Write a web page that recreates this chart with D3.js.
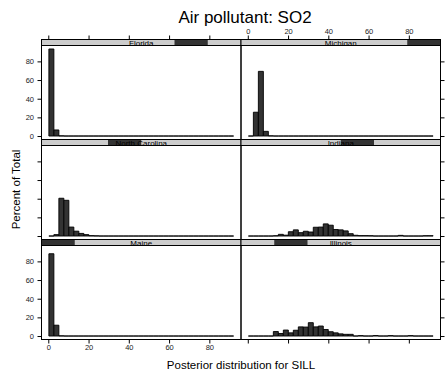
<!DOCTYPE html>
<html>
<head>
<meta charset="utf-8">
<script src="https://cdn.jsdelivr.net/npm/d3@7"></script>
<style>
  body { margin: 0; background: #fff; }
  text { font-family: "Liberation Sans", Arial, sans-serif; }
</style>
</head>
<body>
<svg id="chart" width="445" height="374"></svg>
<script>
// factor levels, in the order lattice uses for the strip indicator
const levels = ["Maine", "Illinois", "North Carolina", "Indiana", "Florida", "Michigan"];

// panel placement: rows from top, columns from left
const panelGrid = [
    ["Florida", "Michigan"],
    ["North Carolina", "Indiana"],
    ["Maine", "Illinois"]
];

// histogram breaks (posterior SILL)
const breaks = [0.3, 2.78, 5.26, 7.74, 10.22, 12.7, 15.18, 17.66, 20.14, 22.62, 25.1, 27.58,
    30.06, 32.54, 35.02, 37.5, 39.98, 42.46, 44.94, 47.42, 49.9, 52.38, 54.86, 57.34, 59.82,
    62.3, 64.78, 67.26, 69.74, 72.22, 74.7, 77.18, 79.66, 82.14, 84.62, 87.1, 89.58, 92.06];

// percent of total in each bin
const florida = [93.3, 6.5, 0.2, 0, 0, 0, 0, 0, 0, 0, 0, 0, 0, 0, 0, 0, 0, 0, 0, 0, 0, 0, 0, 0, 0, 0, 0, 0, 0, 0, 0, 0, 0, 0, 0, 0, 0];
const michigan = [0, 25.5, 69.3, 5.0, 0.2, 0, 0, 0, 0, 0, 0, 0, 0, 0, 0, 0, 0, 0, 0, 0, 0, 0, 0, 0, 0, 0, 0, 0, 0, 0, 0, 0, 0, 0, 0, 0, 0];
const northCarolina = [0, 1.5, 40.5, 38.3, 9.6, 5.2, 2.8, 1.5, 0.4, 0.2, 0, 0, 0, 0, 0, 0, 0, 0, 0, 0, 0, 0, 0, 0, 0, 0, 0, 0, 0, 0, 0, 0, 0, 0, 0, 0, 0];
const indiana = [0, 0, 0, 0, 0, 0.3, 1.8, 0.9, 4.6, 6.6, 3.6, 5.1, 4.3, 9.4, 9.6, 13.0, 11.6, 7.0, 6.6, 5.5, 2.5, 0.8, 0.4, 0.4, 0.3, 0, 0, 0, 0, 0, 0.7, 0, 0, 0, 0, 0.3, 0.3];
const maine = [88.2, 11.6, 0.2, 0, 0, 0, 0, 0, 0, 0, 0, 0, 0, 0, 0, 0, 0, 0, 0, 0, 0, 0, 0, 0, 0, 0, 0, 0, 0, 0, 0, 0, 0, 0, 0, 0, 0];
const illinois = [0, 0, 0, 0, 0, 4.8, 2.7, 6.4, 3.4, 6.2, 9.8, 9.6, 14.3, 9.8, 10.7, 7.0, 4.6, 3.4, 2.3, 1.8, 1.8, 0, 0.4, 0, 0, 0.5, 0, 0, 0.4, 0, 0, 0, 0.4, 0, 0, 0, 0];

const yTicks = [0, 20, 40, 60, 80];
const xTicks = [0, 20, 40, 60, 80];

const percents = {
    "Florida": florida, "Michigan": michigan, "North Carolina": northCarolina,
    "Indiana": indiana, "Maine": maine, "Illinois": illinois
};

let svg = d3.select("#chart");

// layout
let frameLeft = 41.5, frameRight = 440.5, frameTop = 39.5;
let colW = (frameRight - frameLeft) / 2;
let rowH = 100, stripH = 6;

// lattice pads limits by 4%
let bMin = d3.min(breaks), bMax = d3.max(breaks);
let xPad = 0.04 * (bMax - bMin);
let yMax = d3.max(Object.values(percents), function(a) { return d3.max(a); });
let yPad = 0.04 * yMax;

let stripFill = "#cccccc", barFill = "#333333";

panelGrid.forEach(function(row, r) {
    row.forEach(function(state, c) {
        let x0 = frameLeft + c * colW;
        let sTop = frameTop + r * rowH;
        let pTop = sTop + stripH;
        let pBot = sTop + rowH;

        let xScale = d3.scaleLinear()
            .domain([bMin - xPad, bMax + xPad])
            .range([x0, x0 + colW]);
        let yScale = d3.scaleLinear()
            .domain([-yPad, yMax + yPad])
            .range([pBot, pTop]);

        let bins = percents[state].map(function(v, i) {
            return {lo: breaks[i], hi: breaks[i + 1], v: v};
        });

        let g = svg.append("g");

        // bars as closed paths so empty bins still show as a line at zero
        g.selectAll("path.bar")
            .data(bins)
            .enter().append("path")
            .attr("class", "bar")
            .attr("d", function(d) {
                let p = d3.path();
                p.rect(xScale(d.lo), yScale(d.v), xScale(d.hi) - xScale(d.lo), yScale(0) - yScale(d.v));
                return p.toString();
            })
            .attr("fill", barFill)
            .attr("stroke", "#000")
            .attr("stroke-width", 0.9);

        // panel box
        g.append("rect")
            .attr("x", x0).attr("y", pTop)
            .attr("width", colW).attr("height", pBot - pTop)
            .attr("fill", "none").attr("stroke", "#000").attr("stroke-width", 1);

        // strip with level indicator
        let clipId = "clip" + r + c;
        svg.append("clipPath").attr("id", clipId)
            .append("rect").attr("x", x0).attr("y", sTop)
            .attr("width", colW).attr("height", stripH);
        let sg = svg.append("g");
        sg.append("rect")
            .attr("x", x0).attr("y", sTop).attr("width", colW).attr("height", stripH)
            .attr("fill", stripFill);
        let li = levels.indexOf(state);
        sg.append("rect")
            .attr("x", x0 + colW * li / levels.length).attr("y", sTop)
            .attr("width", colW / levels.length).attr("height", stripH)
            .attr("fill", barFill);
        sg.append("text")
            .attr("clip-path", "url(#" + clipId + ")")
            .attr("x", x0 + colW / 2).attr("y", sTop + stripH + 0.3)
            .attr("text-anchor", "middle")
            .attr("font-size", "8px")
            .attr("fill", "#000")
            .text(state);
        sg.append("rect")
            .attr("x", x0).attr("y", sTop).attr("width", colW).attr("height", stripH)
            .attr("fill", "none").attr("stroke", "#000").attr("stroke-width", 1);

        // axes (alternating labels like lattice)
        if (c == 0) {
            let ax = d3.axisLeft(yScale).tickValues(yTicks).tickSize(4).tickPadding(3.5);
            if (r == 1) ax.tickFormat("");
            g.append("g").attr("class", "axis").attr("transform", "translate(" + x0 + ",0)").call(ax);
        } else {
            let ax = d3.axisRight(yScale).tickValues(yTicks).tickSize(4).tickFormat("");
            g.append("g").attr("class", "axis").attr("transform", "translate(" + (x0 + colW) + ",0)").call(ax);
        }
        if (r == 0) {
            let ax = d3.axisTop(xScale).tickValues(xTicks).tickSize(4).tickPadding(2);
            if (c == 0) ax.tickFormat("");
            g.append("g").attr("class", "axis").attr("transform", "translate(0," + sTop + ")").call(ax);
        }
        if (r == panelGrid.length - 1) {
            let ax = d3.axisBottom(xScale).tickValues(xTicks).tickSize(4).tickPadding(1.5);
            if (c == 1) ax.tickFormat("");
            g.append("g").attr("class", "axis").attr("transform", "translate(0," + pBot + ")").call(ax);
        }
    });
});

svg.selectAll(".axis .domain").remove();
svg.selectAll(".axis text").attr("font-size", "7.5px").attr("font-family", "Liberation Sans, Arial, sans-serif").attr("fill", "#222");
svg.selectAll(".axis line").attr("stroke", "#000");

// titles
svg.append("text")
    .attr("x", 245).attr("y", 22.5)
    .attr("text-anchor", "middle")
    .attr("font-size", "17px")
    .text("Air pollutant: SO2");

svg.append("text")
    .attr("x", (frameLeft + frameRight) / 2).attr("y", 369)
    .attr("text-anchor", "middle")
    .attr("font-size", "11.5px")
    .text("Posterior distribution for SILL");

svg.append("text")
    .attr("transform", "translate(19.5," + (frameTop + 1.5 * rowH) + ") rotate(-90)")
    .attr("text-anchor", "middle")
    .attr("font-size", "11.5px")
    .text("Percent of Total");
</script>
</body>
</html>
